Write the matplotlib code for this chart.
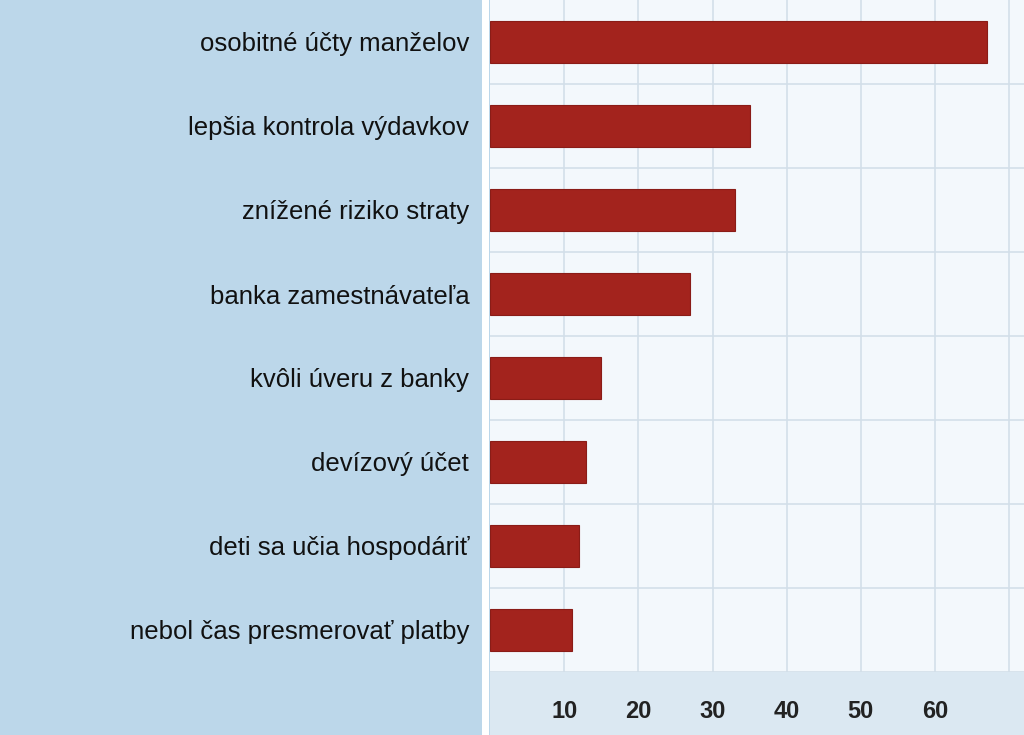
import matplotlib
matplotlib.use("Agg")
import matplotlib.pyplot as plt
from matplotlib.patches import Rectangle

categories = ["osobitné účty manželov", "lepšia kontrola výdavkov", "znížené riziko straty",
              "banka zamestnávateľa", "kvôli úveru z banky", "devízový účet",
              "deti sa učia hospodáriť", "nebol čas presmerovať platby"]
values = [67, 35, 33, 27, 15, 13, 12, 11]
xticks = [10, 20, 30, 40, 50, 60]

plt.rcParams["font.family"] = "Liberation Sans"
W, H = 1024, 735
fig = plt.figure(figsize=(W/100, H/100), dpi=100)
fig.patch.set_facecolor("#bcd7ea")
x0 = 490 / W
ax_bottom = (H - 672) / H
ax = fig.add_axes([x0, ax_bottom, 1 - x0, 1 - ax_bottom])
ax.set_facecolor("#f3f8fc")
ax.set_zorder(2)
fig.patches.append(Rectangle((x0, 0), 1 - x0, ax_bottom, transform=fig.transFigure,
                             facecolor="#dbe8f2", edgecolor="none", zorder=0))
fig.patches.append(Rectangle((482 / W, 0), 7 / W, 1, transform=fig.transFigure,
                             facecolor="white", edgecolor="none", zorder=1))

y = list(range(len(categories)))
ax.barh(y, values, height=0.5, color="#a3231d", edgecolor="#8a1c17", linewidth=0.8, zorder=3)
ax.set_ylim(len(categories) - 0.5, -0.5)
ax.set_xlim(0, 72)
for v in xticks + [70]:
    ax.axvline(v, color="#d3dfe9", lw=1.2, zorder=1)
for i in range(len(categories)):
    ax.axhline(i + 0.5, color="#d3dfe9", lw=1.2, zorder=1)
ax.set_yticks(y)
ax.set_yticklabels(categories, fontsize=18.5, color="#111111")
ax.tick_params(axis="y", length=0, pad=15)
ax.set_xticks(xticks)
ax.set_xticklabels([str(t) for t in xticks], fontsize=17, fontweight="bold", color="#222222")
ax.tick_params(axis="x", length=0, pad=20)
for s in ax.spines.values():
    s.set_visible(False)
fig.savefig("out.png", dpi=100, facecolor=fig.get_facecolor())
